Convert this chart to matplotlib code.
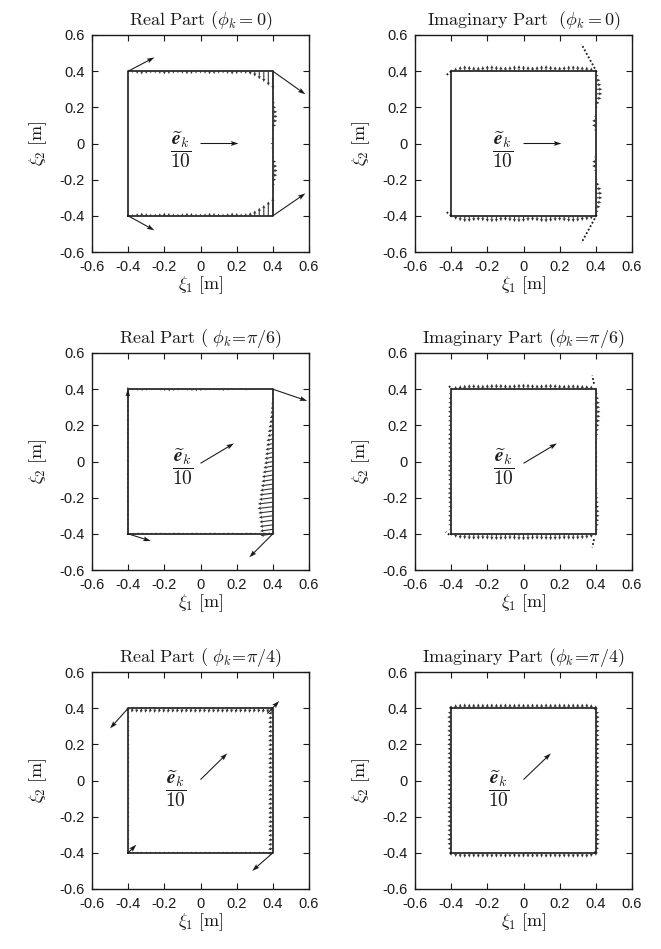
#!/usr/bin/env python3
"""Boundary vector fields (real / imaginary part) on a 0.8 m square for three
propagation angles phi_k. Writes out.png."""

import matplotlib

matplotlib.use("Agg")
import matplotlib.pyplot as plt
import numpy as np

plt.rcParams["font.family"] = ["Liberation Sans", "DejaVu Sans"]
plt.rcParams["mathtext.fontset"] = "cm"

# sample positions along each edge of the square (x for top/bottom, y for left/right)
EDGE_S = np.linspace(-0.4, 0.4, 33)
SQUARE_X = [-0.4, 0.4, 0.4, -0.4, -0.4]
SQUARE_Y = [-0.4, -0.4, 0.4, 0.4, -0.4]
TICKS = [-0.6, -0.4, -0.2, 0.0, 0.2, 0.4, 0.6]
TICK_LABELS = ["-0.6", "-0.4", "-0.2", "0", "0.2", "0.4", "0.6"]

TITLES = [
    r"$\mathrm{Real\ Part}\ (\phi_k = 0)$",
    r"$\mathrm{Imaginary\ Part}\ \ (\phi_k = 0)$",
    r"$\mathrm{Real\ Part}\ (\ \phi_k\!=\!\pi/6)$",
    r"$\mathrm{Imaginary\ Part}\ (\phi_k\!=\!\pi/6)$",
    r"$\mathrm{Real\ Part}\ (\ \phi_k\!=\!\pi/4)$",
    r"$\mathrm{Imaginary\ Part}\ (\phi_k\!=\!\pi/4)$",
]

# outward-normal component of the field at EDGE_S (None = negligible)
RE0_TOP = [-0.005, -0.01, -0.015, -0.018, -0.015, -0.012, -0.012, -0.015, -0.018, -0.016, -0.013,
           -0.012, -0.014, -0.017, -0.016, -0.013, -0.012, -0.014, -0.017, -0.016, -0.013, -0.012,
           -0.015, -0.018, -0.016, -0.013, -0.015, -0.02, -0.03, -0.045, -0.06, -0.08, -0.1]
RE0_BOTTOM = RE0_TOP  # mirror-symmetric about xi_2 = 0
RE0_LEFT = None
RE0_RIGHT = [0.0, 0.0, 0.0, 0.0, 0.003, 0.005, 0.008, 0.012, 0.018, 0.024, 0.026, 0.024, 0.018,
             0.008, 0.0, -0.008, -0.012, -0.008, 0.0, 0.008, 0.018, 0.024, 0.026, 0.024, 0.018,
             0.012, 0.008, 0.005, 0.003, 0.0, 0.0, 0.0, 0.0]

IM0_TOP = [0.01, 0.02, 0.028, 0.032, 0.03, 0.026, 0.025, 0.028, 0.032, 0.033, 0.03, 0.027, 0.026,
           0.028, 0.032, 0.033, 0.031, 0.028, 0.026, 0.028, 0.032, 0.033, 0.03, 0.027, 0.026,
           0.028, 0.031, 0.032, 0.03, 0.027, 0.025, 0.02, 0.01]
IM0_BOTTOM = [0.01, 0.022, 0.03, 0.035, 0.034, 0.03, 0.028, 0.03, 0.034, 0.036, 0.034, 0.03, 0.028,
              0.031, 0.035, 0.036, 0.034, 0.03, 0.028, 0.031, 0.035, 0.036, 0.033, 0.03, 0.028,
              0.031, 0.034, 0.035, 0.032, 0.028, 0.025, 0.02, 0.01]
IM0_LEFT = None
IM0_RIGHT = [0.005, 0.015, 0.025, 0.03, 0.035, 0.035, 0.03, 0.02, 0.01, 0.0, -0.01, -0.02, -0.02,
             -0.01, 0.0, 0.005, 0.005, 0.005, 0.0, -0.01, -0.02, -0.02, -0.01, 0.0, 0.01, 0.02,
             0.03, 0.035, 0.035, 0.03, 0.025, 0.015, 0.005]

RE6_TOP = [-0.003, -0.006, -0.008, -0.01, -0.008, -0.006, -0.006, -0.008, -0.01, -0.012, -0.01,
           -0.008, -0.006, -0.008, -0.01, -0.012, -0.01, -0.008, -0.006, -0.006, -0.008, -0.01,
           -0.008, -0.006, -0.005, -0.006, -0.008, -0.006, -0.005, -0.004, -0.003, -0.002, 0.0]
RE6_BOTTOM = [-0.004, -0.005, -0.006, -0.006, -0.005, -0.005, -0.006, -0.006, -0.005, -0.005,
              -0.006, -0.006, -0.005, -0.005, -0.006, -0.006, -0.005, -0.005, -0.006, -0.006,
              -0.005, -0.005, -0.006, -0.006, -0.005, -0.005, -0.006, -0.006, -0.005, -0.005,
              -0.006, -0.006, -0.005]
RE6_LEFT = [0.004, 0.005, 0.006, 0.006, 0.007, 0.006, 0.006, 0.007, 0.006, 0.006, 0.007, 0.006,
            0.006, 0.007, 0.006, 0.006, 0.007, 0.006, 0.006, 0.007, 0.006, 0.006, 0.007, 0.006,
            0.006, 0.007, 0.006, 0.006, 0.007, 0.006, 0.005, 0.005, 0.004]
RE6_RIGHT = [-0.068, -0.07, -0.072, -0.074, -0.076, -0.08, -0.084, -0.082, -0.076, -0.074, -0.07,
             -0.066, -0.062, -0.06, -0.056, -0.052, -0.048, -0.046, -0.043, -0.04, -0.037, -0.035,
             -0.03, -0.028, -0.024, -0.02, -0.016, -0.013, -0.01, -0.007, -0.004, -0.002, 0.0]

IM6_TOP = [0.01, 0.018, 0.022, 0.025, 0.027, 0.028, 0.026, 0.025, 0.027, 0.029, 0.03, 0.029, 0.027,
           0.026, 0.028, 0.03, 0.031, 0.03, 0.028, 0.026, 0.027, 0.029, 0.03, 0.028, 0.026, 0.025,
           0.026, 0.027, 0.026, 0.024, 0.022, 0.02, 0.01]
IM6_BOTTOM = [0.012, 0.022, 0.028, 0.03, 0.032, 0.033, 0.032, 0.031, 0.032, 0.034, 0.035, 0.034,
              0.033, 0.032, 0.033, 0.035, 0.036, 0.035, 0.033, 0.032, 0.033, 0.034, 0.035, 0.034,
              0.033, 0.032, 0.032, 0.033, 0.032, 0.03, 0.027, 0.022, 0.012]
IM6_LEFT = [0.008, 0.012, 0.015, 0.016, 0.017, 0.016, 0.015, 0.016, 0.018, 0.018, 0.017, 0.016,
            0.016, 0.017, 0.018, 0.018, 0.017, 0.016, 0.016, 0.017, 0.018, 0.018, 0.017, 0.016,
            0.015, 0.016, 0.017, 0.017, 0.016, 0.015, 0.014, 0.012, 0.008]
IM6_RIGHT = [0.008, 0.012, 0.016, 0.018, 0.02, 0.02, 0.018, 0.016, 0.014, 0.012, 0.01, 0.008, 0.008,
             0.009, 0.01, 0.01, 0.01, 0.01, 0.009, 0.008, 0.008, 0.01, 0.013, 0.017, 0.02, 0.023,
             0.025, 0.025, 0.024, 0.022, 0.018, 0.012, 0.008]

RE4_TOP = [-0.02, -0.024, -0.025, -0.026, -0.025, -0.025, -0.026, -0.025, -0.025, -0.026, -0.025,
           -0.025, -0.026, -0.025, -0.025, -0.026, -0.025, -0.025, -0.026, -0.025, -0.025, -0.026,
           -0.025, -0.025, -0.026, -0.025, -0.025, -0.026, -0.025, -0.025, -0.026, -0.026, -0.026]
RE4_BOTTOM = [-0.006, -0.007, -0.008, -0.008, -0.007, -0.008, -0.008, -0.007, -0.008, -0.008,
              -0.007, -0.008, -0.008, -0.007, -0.008, -0.008, -0.007, -0.008, -0.008, -0.007,
              -0.008, -0.008, -0.007, -0.008, -0.008, -0.007, -0.008, -0.008, -0.007, -0.008,
              -0.008, -0.007, -0.006]
RE4_LEFT = [-0.006, -0.007, -0.008, -0.008, -0.007, -0.008, -0.008, -0.007, -0.008, -0.008,
            -0.007, -0.008, -0.008, -0.007, -0.008, -0.008, -0.007, -0.008, -0.008, -0.007,
            -0.008, -0.008, -0.007, -0.008, -0.008, -0.007, -0.008, -0.008, -0.007, -0.008,
            -0.008, -0.007, -0.006]
RE4_RIGHT = [-0.026, -0.026, -0.026, -0.025, -0.025, -0.026, -0.025, -0.025, -0.026, -0.025,
             -0.025, -0.026, -0.025, -0.025, -0.026, -0.025, -0.025, -0.026, -0.025, -0.025,
             -0.026, -0.025, -0.025, -0.026, -0.025, -0.025, -0.026, -0.025, -0.025, -0.026,
             -0.025, -0.024, -0.02]

IM4_TOP = [0.015, 0.022, 0.025, 0.026, 0.025, 0.025, 0.026, 0.025, 0.025, 0.026, 0.025, 0.025,
           0.026, 0.025, 0.025, 0.026, 0.025, 0.025, 0.026, 0.025, 0.025, 0.026, 0.025, 0.025,
           0.026, 0.025, 0.025, 0.026, 0.025, 0.025, 0.026, 0.022, 0.015]
IM4_BOTTOM = [0.016, 0.023, 0.026, 0.027, 0.026, 0.026, 0.027, 0.026, 0.026, 0.027, 0.026, 0.026,
              0.027, 0.026, 0.026, 0.027, 0.026, 0.026, 0.027, 0.026, 0.026, 0.027, 0.026, 0.026,
              0.027, 0.026, 0.026, 0.027, 0.026, 0.026, 0.027, 0.023, 0.016]
IM4_LEFT = [0.012, 0.018, 0.02, 0.021, 0.02, 0.02, 0.021, 0.02, 0.02, 0.021, 0.02, 0.02, 0.021,
            0.02, 0.02, 0.021, 0.02, 0.02, 0.021, 0.02, 0.02, 0.021, 0.02, 0.02, 0.021, 0.02,
            0.02, 0.021, 0.02, 0.02, 0.021, 0.018, 0.012]
IM4_RIGHT = IM4_LEFT  # same magnitude on opposite side

# tangential component per edge (top, bottom, left, right)
TANGENTS = [
    [0.0, 0.0, 0.0, 0.0],
    [0.0, 0.0, 0.0, 0.0],
    [0.004, 0.01, 0.012, -0.01],
    [0.0, 0.0, 0.0, 0.0],
    [-0.006, 0.0, 0.0, -0.006],
    [0.0, 0.0, 0.0, 0.0],
]

# large corner arrows: start x, start y, dx, dy
CORNER_X0 = [[-0.4, -0.4, 0.4, 0.4], [], [0.4, 0.4, -0.4, -0.402], [],
             [-0.4, 0.4, -0.4, 0.37], []]
CORNER_Y0 = [[0.4, -0.4, 0.4, -0.4], [], [0.4, -0.4, -0.4, 0.36], [],
             [0.4, -0.4, -0.4, 0.37], []]
CORNER_U = [[0.145, 0.145, 0.18, 0.18], [], [0.19, -0.13, 0.125, 0.0], [],
            [-0.1, -0.114, 0.045, 0.065], []]
CORNER_V = [[0.076, -0.08, -0.128, 0.124], [], [-0.065, -0.13, -0.04, 0.04], [],
            [-0.112, -0.1, 0.045, 0.07], []]

# dotted corner streaks of the imaginary parts: x0, y0, x1, y1
DOT_X0 = [[], [0.405, 0.405, -0.4, -0.4], [], [0.39, 0.39, -0.405, -0.41], [],
          [-0.4, 0.4, -0.4, 0.4]]
DOT_Y0 = [[], [0.395, -0.395, 0.4, -0.4], [], [0.43, -0.43, 0.41, -0.405], [],
          [0.4, 0.4, -0.4, -0.4]]
DOT_X1 = [[], [0.32, 0.32, -0.43, -0.43], [], [0.38, 0.38, -0.42, -0.43], [],
          [-0.415, 0.385, -0.415, 0.385]]
DOT_Y1 = [[], [0.55, -0.55, 0.375, -0.375], [], [0.475, -0.475, 0.425, -0.39], [],
          [0.415, 0.385, -0.415, -0.385]]

# reference arrow e_k/10 and its label
REF_X0 = [0.0, 0.0, 0.0, 0.0, 0.0, 0.0]
REF_Y0 = [0.0, 0.0, -0.01, -0.01, 0.005, 0.005]
REF_U = [0.21, 0.21, 0.185, 0.185, 0.148, 0.151]
REF_V = [0.0, 0.0, 0.11, 0.11, 0.145, 0.145]
REF_TEXT_X = [-0.107, -0.113, -0.1, -0.11, -0.135, -0.136]
REF_TEXT_Y = [-0.035, -0.035, -0.03, -0.03, -0.045, -0.045]

NORMALS = [
    (RE0_TOP, RE0_BOTTOM, RE0_LEFT, RE0_RIGHT),
    (IM0_TOP, IM0_BOTTOM, IM0_LEFT, IM0_RIGHT),
    (RE6_TOP, RE6_BOTTOM, RE6_LEFT, RE6_RIGHT),
    (IM6_TOP, IM6_BOTTOM, IM6_LEFT, IM6_RIGHT),
    (RE4_TOP, RE4_BOTTOM, RE4_LEFT, RE4_RIGHT),
    (IM4_TOP, IM4_BOTTOM, IM4_LEFT, IM4_RIGHT),
]

INK = "#1a1a1a"


def edge_arrows(normals, tangent):
    top, bottom, left, right = normals
    s = EDGE_S
    one = np.ones_like(s)
    xs, ys, us, vs = [], [], [], []
    if top is not None:
        xs.append(s); ys.append(0.4 * one)
        us.append(tangent[0] * one); vs.append(np.asarray(top))
    if bottom is not None:
        xs.append(s); ys.append(-0.4 * one)
        us.append(tangent[1] * one); vs.append(-np.asarray(bottom))
    if left is not None:
        xs.append(-0.4 * one); ys.append(s)
        us.append(-np.asarray(left)); vs.append(tangent[2] * one)
    if right is not None:
        xs.append(0.4 * one); ys.append(s)
        us.append(np.asarray(right)); vs.append(tangent[3] * one)
    return (np.concatenate(xs), np.concatenate(ys),
            np.concatenate(us), np.concatenate(vs))


def draw_panel(ax, i):
    ax.plot(SQUARE_X, SQUARE_Y, color=INK, lw=1.2, zorder=2)

    x, y, u, v = edge_arrows(NORMALS[i], TANGENTS[i])
    ax.quiver(x, y, u, v, angles="xy", scale_units="xy", scale=1, color="#333333",
              width=0.005, headwidth=3.0, headlength=3.0, headaxislength=2.6,
              minlength=0.5, zorder=3)

    if CORNER_X0[i]:
        ax.quiver(CORNER_X0[i], CORNER_Y0[i], CORNER_U[i], CORNER_V[i],
                  angles="xy", scale_units="xy", scale=1, color=INK,
                  width=0.005, headwidth=4.5, headlength=7, headaxislength=6,
                  zorder=4)

    for x0, y0, x1, y1 in zip(DOT_X0[i], DOT_Y0[i], DOT_X1[i], DOT_Y1[i]):
        ax.plot([x0, x1], [y0, y1], color=INK, lw=1.3, ls=(0, (1, 1.2)), zorder=3)

    ax.quiver([REF_X0[i]], [REF_Y0[i]], [REF_U[i]], [REF_V[i]],
              angles="xy", scale_units="xy", scale=1, color=INK,
              width=0.005, headwidth=4.5, headlength=7, headaxislength=6, zorder=4)
    ax.text(REF_TEXT_X[i], REF_TEXT_Y[i],
            r"$\dfrac{\widetilde{\boldsymbol{e}}_k}{10}$",
            ha="center", va="center", fontsize=14, color=INK)

    ax.set_xlim(-0.6, 0.6)
    ax.set_ylim(-0.6, 0.6)
    ax.set_xticks(TICKS)
    ax.set_yticks(TICKS)
    ax.set_xticklabels(TICK_LABELS)
    ax.set_yticklabels(TICK_LABELS)
    ax.tick_params(direction="in", length=4, width=0.8, top=True, right=True,
                   labelsize=10.5, colors=INK)
    ax.tick_params(axis="x", pad=6)
    ax.tick_params(axis="y", pad=5)
    for sp in ax.spines.values():
        sp.set_linewidth(1.0)
        sp.set_color(INK)
    ax.set_title(TITLES[i], fontsize=13, pad=7, color=INK)
    ax.set_xlabel(r"$\xi_1\ \mathrm{[m]}$", fontsize=13, labelpad=0, color=INK)
    ax.set_ylabel(r"$\xi_2\ \mathrm{[m]}$", fontsize=13, labelpad=8, color=INK)


def main():
    W, H = 661, 949
    fig = plt.figure(figsize=(W / 100, H / 100), dpi=100)
    lefts = [92, 415]
    bottoms = [697, 379, 60]
    for i in range(6):
        r, c = divmod(i, 2)
        ax = fig.add_axes([lefts[c] / W, bottoms[r] / H, 217 / W, 217 / H])
        draw_panel(ax, i)
    fig.savefig("out.png", dpi=100)
    plt.close(fig)


if __name__ == "__main__":
    main()
